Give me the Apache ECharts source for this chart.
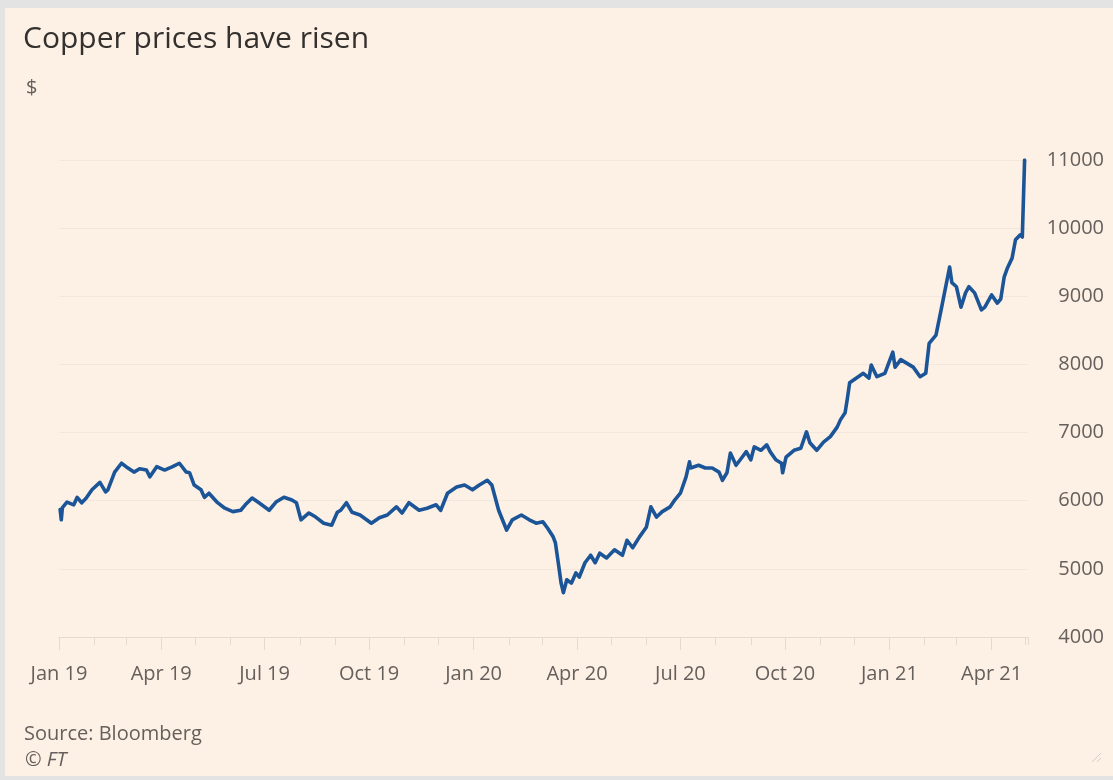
<!DOCTYPE html>
<html>
<head>
<meta charset="utf-8">
<script src="https://cdn.jsdelivr.net/npm/echarts@6/dist/echarts.min.js"></script>
<style>
html,body{margin:0;padding:0;background:#fdf0e5;}
#chart{width:1113px;height:780px;}
</style>
</head>
<body>
<div id="chart"></div>
<script>
// ---- data ----
const titleText = 'Copper prices have risen';
const unitText = '$';
const sourceText = 'Source: Bloomberg';
const creditText = '\u00A9 FT';

const dates = [
 '2019-01-02','2019-01-03','2019-01-04','2019-01-08','2019-01-14','2019-01-17','2019-01-21','2019-01-25','2019-01-30',
 '2019-02-06','2019-02-11','2019-02-13','2019-02-19','2019-02-25',
 '2019-03-01','2019-03-08','2019-03-13','2019-03-19','2019-03-22','2019-03-28',
 '2019-04-04','2019-04-11','2019-04-17','2019-04-23','2019-04-26','2019-04-30',
 '2019-05-06','2019-05-09','2019-05-13','2019-05-20','2019-05-27',
 '2019-06-03','2019-06-10','2019-06-14','2019-06-20','2019-06-26',
 '2019-07-05','2019-07-11','2019-07-18','2019-07-25','2019-07-29',
 '2019-08-02','2019-08-09','2019-08-15','2019-08-22','2019-08-29',
 '2019-09-03','2019-09-06','2019-09-11','2019-09-16','2019-09-23',
 '2019-10-03','2019-10-10','2019-10-17','2019-10-25','2019-10-30',
 '2019-11-05','2019-11-14','2019-11-21','2019-11-29',
 '2019-12-03','2019-12-09','2019-12-17','2019-12-24','2019-12-31',
 '2020-01-06','2020-01-13','2020-01-17','2020-01-23','2020-01-30',
 '2020-02-04','2020-02-12','2020-02-19','2020-02-25',
 '2020-03-02','2020-03-06','2020-03-11','2020-03-13','2020-03-16','2020-03-18','2020-03-20','2020-03-23','2020-03-27','2020-03-31',
 '2020-04-03','2020-04-08','2020-04-13','2020-04-17','2020-04-21','2020-04-27',
 '2020-05-04','2020-05-11','2020-05-15','2020-05-20','2020-05-26',
 '2020-06-01','2020-06-05','2020-06-10','2020-06-15','2020-06-22','2020-06-26',
 '2020-07-01','2020-07-06','2020-07-09','2020-07-10','2020-07-17','2020-07-23','2020-07-29',
 '2020-08-04','2020-08-07','2020-08-11','2020-08-14','2020-08-19','2020-08-24','2020-08-28',
 '2020-09-01','2020-09-04','2020-09-10','2020-09-15','2020-09-18','2020-09-23','2020-09-28','2020-09-29',
 '2020-10-02','2020-10-09','2020-10-15','2020-10-20','2020-10-23','2020-10-29',
 '2020-11-04','2020-11-10','2020-11-16','2020-11-19','2020-11-23','2020-11-25','2020-11-27',
 '2020-12-03','2020-12-09','2020-12-14','2020-12-16','2020-12-21','2020-12-28',
 '2021-01-04','2021-01-06','2021-01-11','2021-01-15','2021-01-22','2021-01-28',
 '2021-02-02','2021-02-05','2021-02-11','2021-02-16','2021-02-23','2021-02-25',
 '2021-03-01','2021-03-05','2021-03-09','2021-03-12','2021-03-17','2021-03-23','2021-03-26',
 '2021-04-01','2021-04-06','2021-04-09','2021-04-12','2021-04-15','2021-04-19','2021-04-22','2021-04-26','2021-04-28','2021-04-30'
];

const prices = [
 5870,5720,5900,5980,5940,6050,5970,6040,6160,
 6270,6130,6160,6420,6550,
 6500,6420,6470,6450,6350,6500,
 6450,6500,6550,6420,6410,6230,
 6160,6050,6110,5980,5890,
 5840,5860,5940,6040,5970,
 5860,5980,6050,6010,5970,
 5720,5820,5760,5670,5640,
 5830,5860,5970,5830,5790,
 5670,5750,5790,5910,5820,
 5970,5860,5890,5940,
 5860,6110,6200,6230,6160,
 6230,6300,6230,5860,5570,
 5720,5790,5720,5670,
 5690,5600,5470,5380,5030,4790,4650,4840,4790,4940,
 4880,5090,5200,5090,5230,5160,
 5280,5200,5420,5310,5470,
 5610,5910,5760,5840,5910,6010,
 6110,6350,6570,6480,6520,6480,6480,
 6420,6300,6410,6700,6520,6630,6720,
 6600,6790,6740,6820,6720,6600,6550,6410,
 6640,6740,6770,7010,6850,6740,
 6860,6940,7080,7190,7290,7500,7730,
 7800,7870,7800,7990,7820,7870,
 8180,7960,8070,8030,7960,7820,
 7870,8310,8430,8840,9430,9200,
 9140,8840,9050,9140,9050,8800,8840,
 9020,8900,8960,9280,9420,9560,9830,9900,9870,11000
];

const xStart = '2019-01-01';
const xEnd = '2021-05-03';
const yMin = 4000, yMax = 11000, yStep = 1000;

// ---- chart ----
const chart = echarts.init(document.getElementById('chart'), null, {renderer: 'canvas'});
const font = 'Open Sans';
const txtGray = '#66605c';
const faint = '#e6d9ce';

const seriesData = dates.map((d, i) => [d, prices[i]]);

chart.setOption({
  animation: false,
  backgroundColor: '#fdf0e5',
  grid: {left: 59, right: 85, top: 160, bottom: 143, containLabel: false},
  xAxis: [{
    // quarterly ticks + labels
    type: 'time',
    min: xStart,
    max: xEnd,
    splitNumber: 9,
    axisLine: {show: true, lineStyle: {color: faint, width: 1}},
    axisTick: {show: true, length: 13, lineStyle: {color: faint, width: 1}},
    splitLine: {show: false},
    axisLabel: {
      formatter: '{MMM} {yy}',
      color: txtGray, fontSize: 20, fontFamily: font,
      margin: 27, hideOverlap: false, showMinLabel: true
    }
  }, {
    // monthly ticks only
    type: 'time',
    position: 'bottom',
    min: xStart,
    max: xEnd,
    splitNumber: 30,
    axisLine: {show: false},
    axisTick: {show: true, length: 8, lineStyle: {color: faint, width: 1}},
    splitLine: {show: false},
    axisLabel: {show: false}
  }],
  yAxis: {
    type: 'value',
    position: 'right',
    min: yMin, max: yMax, interval: yStep,
    axisLine: {show: false},
    axisTick: {show: false},
    splitLine: {show: true, lineStyle: {color: '#f3e6db', width: 1}},
    axisLabel: {
      color: txtGray, fontSize: 20, fontFamily: font, align: 'right', margin: 76,
      formatter: v => String(v)
    }
  },
  series: [{
    type: 'line',
    xAxisIndex: 0,
    data: seriesData,
    showSymbol: false,
    symbol: 'none',
    lineStyle: {color: '#1b5597', width: 3.6, join: 'round', cap: 'round'},
    z: 5
  }],
  graphic: [
    {type: 'rect', shape: {x: 0, y: 0, width: 1113, height: 8}, style: {fill: '#e3e3e3'}, silent: true},
    {type: 'rect', shape: {x: 0, y: 0, width: 5, height: 780}, style: {fill: '#e3e3e3'}, silent: true},
    {type: 'rect', shape: {x: 0, y: 776, width: 1113, height: 4}, style: {fill: '#e3e3e3'}, silent: true},
    {type: 'text', x: 23, y: 39, style: {text: titleText, fill: '#33302e', font: '30px "Open Sans"', verticalAlign: 'middle', align: 'left'}},
    {type: 'text', x: 26, y: 88, style: {text: unitText, fill: txtGray, font: '20px "Open Sans"', verticalAlign: 'middle', align: 'left'}},
    {type: 'text', x: 24, y: 734, style: {text: sourceText, fill: txtGray, font: '20px "Open Sans"', verticalAlign: 'middle', align: 'left'}},
    {type: 'text', x: 25, y: 760, style: {text: creditText, fill: txtGray, font: 'italic 20px "Open Sans"', verticalAlign: 'middle', align: 'left'}},
    {type: 'line', shape: {x1: 1092, y1: 762, x2: 1101, y2: 753}, style: {stroke: '#d6cec6', lineWidth: 1}, silent: true},
    {type: 'line', shape: {x1: 1097, y1: 762, x2: 1101, y2: 758}, style: {stroke: '#d6cec6', lineWidth: 1}, silent: true}
  ]
});
</script>
</body>
</html>
